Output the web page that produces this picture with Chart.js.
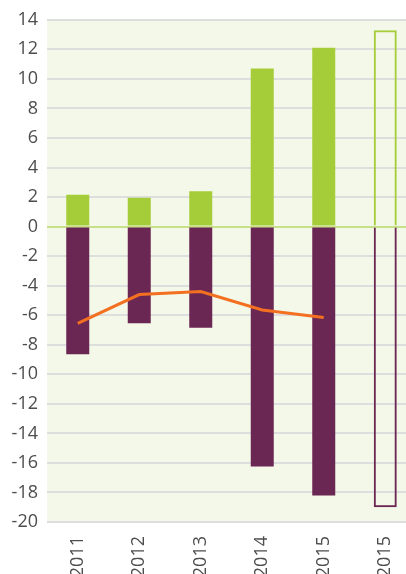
<!DOCTYPE html>
<html>
<head>
<meta charset="utf-8">
<script src="https://cdn.jsdelivr.net/npm/chart.js@4"></script>
<style>
  html, body { margin: 0; padding: 0; background: #fff; overflow: hidden; }
  #wrap { width: 418px; height: 574px; position: relative; }
</style>
</head>
<body>
<div id="wrap"><canvas id="barChart"></canvas></div>
<script>
// categories along the x axis (last one is the projection, drawn as outlines)
var years = ['2011', '2012', '2013', '2014', '2015', '2015'];
var positive = [2.15, 1.95, 2.4, 10.7, 12.1, 13.3];   // green bars
var negative = [-8.65, -6.55, -6.85, -16.25, -18.2, -19.0]; // purple bars
var balance = [-6.55, -4.6, -4.4, -5.65, -6.15, null]; // orange line

var green = '#a5cd39';
var purple = '#6b2754';
var orange = '#f37021';
var lastIdx = years.length - 1;

function fillFor(col) {
  return function(ctx) { return ctx.dataIndex === lastIdx ? 'rgba(0,0,0,0)' : col; };
}
function widthFor(ctx) { return ctx.dataIndex === lastIdx ? 2 : 0; }

// plot area background
var plotBg = {
  id: 'plotBg',
  beforeDraw: function(chart) {
    var a = chart.chartArea, c = chart.ctx;
    c.save();
    c.fillStyle = '#f4f8e8';
    c.fillRect(a.left, a.top, a.right - a.left, a.bottom - a.top);
    c.restore();
  }
};

var ctx = document.getElementById('barChart').getContext('2d');
var barChart = new Chart(ctx, {
  type: 'bar',
  data: {
    labels: years,
    datasets: [{
      label: 'line',
      type: 'line',
      stack: 'line',
      data: balance,
      borderColor: orange,
      borderWidth: 3,
      pointRadius: 0,
      fill: false,
      order: 0
    }, {
      label: 'positive',
      data: positive,
      backgroundColor: fillFor(green),
      borderColor: green,
      borderWidth: widthFor,
      borderSkipped: 'start',
      order: 1
    }, {
      label: 'negative',
      data: negative,
      backgroundColor: fillFor(purple),
      borderColor: purple,
      borderWidth: widthFor,
      borderSkipped: 'start',
      order: 1
    }]
  },
  options: {
    responsive: true,
    maintainAspectRatio: false,
    animation: false,
    layout: { padding: { top: 9, right: 2, left: 0, bottom: 0 } },
    datasets: {
      bar: { barPercentage: 0.374, categoryPercentage: 1 }
    },
    plugins: {
      legend: { display: false },
      tooltip: { enabled: false }
    },
    scales: {
      x: {
        stacked: true,
        grid: { display: false },
        border: { display: false },
        ticks: {
          minRotation: 90,
          maxRotation: 90,
          padding: 6,
          color: '#4d4d4d',
          font: { family: 'Open Sans', size: 18 }
        },
        afterFit: function(scale) { scale.height = 52; }
      },
      y: {
        stacked: true,
        min: -20,
        max: 14,
        border: { display: false },
        grid: {
          drawTicks: false,
          color: function(c) { return c.tick.value === 0 ? '#c8e08a' : '#dedede'; },
          lineWidth: 2
        },
        ticks: {
          stepSize: 2,
          padding: 9,
          color: '#4d4d4d',
          font: { family: 'Open Sans', size: 18 }
        },
        afterFit: function(scale) { scale.width = 47; }
      }
    }
  },
  plugins: [plotBg]
});
</script>
</body>
</html>
